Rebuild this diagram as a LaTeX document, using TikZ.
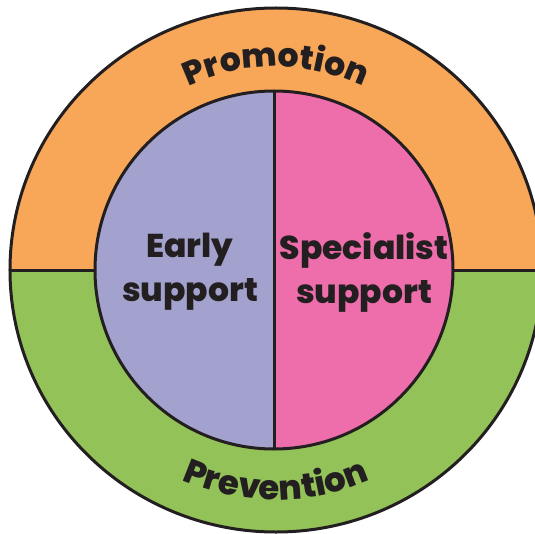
\documentclass[tikz,border=0pt]{standalone}
\usepackage{fontspec}
\setmainfont{Poppins}[BoldFont={Poppins ExtraBold}]
\usetikzlibrary{decorations.text}
\definecolor{promo}{HTML}{F8A758}
\definecolor{preve}{HTML}{93C259}
\definecolor{early}{HTML}{A3A2CE}
\definecolor{spec}{HTML}{EE6DAB}
\definecolor{ink}{HTML}{231F20}
\tikzset{
  ring/.style={draw=ink, line width=3pt},
  label/.style={text=ink, font=\fontsize{33}{44}\selectfont\bfseries, align=center}
}
\begin{document}
\begin{tikzpicture}[x=1pt,y=1pt]
\useasboundingbox (-276,-263) rectangle (259,270);
% outer halves (slightly wide ellipse)
\fill[promo] (0:266 and 262) arc[start angle=0,end angle=180,x radius=266,y radius=262] -- cycle;
\fill[preve] (-266,0) arc[start angle=180,end angle=360,x radius=266,y radius=262] -- cycle;
\draw[ring] (-266,0) -- (266,0);
\draw[ring] (0,0) ellipse[x radius=266,y radius=262];
% inner halves
\fill[early] (-2,179) arc[start angle=90,end angle=270,radius=179] -- cycle;
\fill[spec] (-2,-179) arc[start angle=270,end angle=450,radius=179] -- cycle;
\draw[ring] (-2,179) -- (-2,-179);
\draw[ring] (-2,0) circle[radius=179];
% curved texts
\path[decorate, decoration={text along path, text align=center,
  text={|\color{ink}\fontsize{33}{33}\selectfont\bfseries|Promotion}}]
  (180:203) arc[start angle=180,end angle=0,radius=203];
\path[decorate, decoration={text along path, text align=center,
  text={|\color{ink}\fontsize{34}{34}\selectfont\bfseries|Prevention}}]
  (180:230) arc[start angle=180,end angle=360,radius=230];
% inner labels
\node[label] (earlyl) at (-86,-2) {Early\\support};
\node[label] (specl) at (88,-2) {Specialist\\support};
\end{tikzpicture}
\end{document}
